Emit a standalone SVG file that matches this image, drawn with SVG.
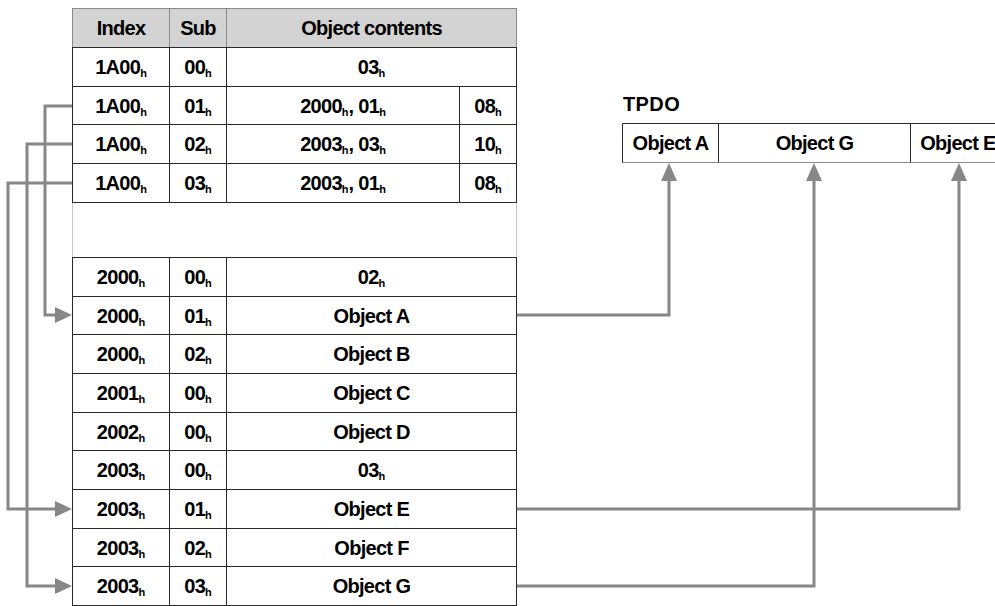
<svg xmlns="http://www.w3.org/2000/svg" width="995" height="606" viewBox="0 0 995 606">
<style>
text{font-family:"Liberation Sans",Arial,sans-serif;font-weight:bold;font-size:20px;letter-spacing:-0.7px;fill:#000;text-anchor:middle}
.s{font-size:11px;letter-spacing:0}
.ln{stroke:#2a2a2a;stroke-width:1;fill:none}
.hl{stroke:#8a8a8a;stroke-width:1;fill:none}
.hf{stroke:#8a8a8a;stroke-width:1;fill:#d3d3d3}
.gap{stroke:#c8c8c8;stroke-width:1;fill:none}
.con{stroke:#878787;stroke-width:3;fill:none}
.ah{fill:#878787}
.tl{text-anchor:start;font-size:20px;letter-spacing:0.4px}
</style>
<rect width="995" height="606" fill="#fff"/>

<g id="header">
<rect x="72.5" y="8.5" width="444" height="39" class="hf"/>
<line x1="169.5" y1="8.5" x2="169.5" y2="47.5" class="hl"/>
<line x1="226.5" y1="8.5" x2="226.5" y2="47.5" class="hl"/>
<text x="121" y="35">Index</text>
<text x="198" y="35">Sub</text>
<text x="371.5" y="35">Object contents</text>
</g>

<g id="row-1a00-00">
<rect x="72.5" y="47.5" width="444" height="39" class="ln"/>
<line x1="169.5" y1="47.5" x2="169.5" y2="86.5" class="ln"/>
<line x1="226.5" y1="47.5" x2="226.5" y2="86.5" class="ln"/>
<text x="121" y="74">1A00<tspan class="s" dy="3">h</tspan></text>
<text x="198" y="74">00<tspan class="s" dy="3">h</tspan></text>
<text x="371.5" y="74">03<tspan class="s" dy="3">h</tspan></text>
</g>

<g id="row-1a00-01">
<rect x="72.5" y="86.5" width="444" height="38" class="ln"/>
<line x1="169.5" y1="86.5" x2="169.5" y2="124.5" class="ln"/>
<line x1="226.5" y1="86.5" x2="226.5" y2="124.5" class="ln"/>
<line x1="459.5" y1="86.5" x2="459.5" y2="124.5" class="ln"/>
<text x="121" y="112.5">1A00<tspan class="s" dy="3">h</tspan></text>
<text x="198" y="112.5">01<tspan class="s" dy="3">h</tspan></text>
<text x="343" y="112.5">2000<tspan class="s" dy="3">h</tspan><tspan dy="-3">, 01</tspan><tspan class="s" dy="3">h</tspan></text>
<text x="488" y="112.5">08<tspan class="s" dy="3">h</tspan></text>
</g>

<g id="row-1a00-02">
<rect x="72.5" y="124.5" width="444" height="39" class="ln"/>
<line x1="169.5" y1="124.5" x2="169.5" y2="163.5" class="ln"/>
<line x1="226.5" y1="124.5" x2="226.5" y2="163.5" class="ln"/>
<line x1="459.5" y1="124.5" x2="459.5" y2="163.5" class="ln"/>
<text x="121" y="151">1A00<tspan class="s" dy="3">h</tspan></text>
<text x="198" y="151">02<tspan class="s" dy="3">h</tspan></text>
<text x="343" y="151">2003<tspan class="s" dy="3">h</tspan><tspan dy="-3">, 03</tspan><tspan class="s" dy="3">h</tspan></text>
<text x="488" y="151">10<tspan class="s" dy="3">h</tspan></text>
</g>

<g id="row-1a00-03">
<rect x="72.5" y="163.5" width="444" height="39" class="ln"/>
<line x1="169.5" y1="163.5" x2="169.5" y2="202.5" class="ln"/>
<line x1="226.5" y1="163.5" x2="226.5" y2="202.5" class="ln"/>
<line x1="459.5" y1="163.5" x2="459.5" y2="202.5" class="ln"/>
<text x="121" y="190">1A00<tspan class="s" dy="3">h</tspan></text>
<text x="198" y="190">03<tspan class="s" dy="3">h</tspan></text>
<text x="343" y="190">2003<tspan class="s" dy="3">h</tspan><tspan dy="-3">, 01</tspan><tspan class="s" dy="3">h</tspan></text>
<text x="488" y="190">08<tspan class="s" dy="3">h</tspan></text>
</g>

<g id="gap">
<line x1="72.5" y1="203" x2="72.5" y2="257" class="gap"/>
<line x1="516.5" y1="203" x2="516.5" y2="257" class="gap"/>
</g>

<g id="row-2000-00">
<rect x="72.5" y="257.5" width="444" height="39" class="ln"/>
<line x1="169.5" y1="257.5" x2="169.5" y2="296.5" class="ln"/>
<line x1="226.5" y1="257.5" x2="226.5" y2="296.5" class="ln"/>
<text x="121" y="284">2000<tspan class="s" dy="3">h</tspan></text>
<text x="198" y="284">00<tspan class="s" dy="3">h</tspan></text>
<text x="371.5" y="284">02<tspan class="s" dy="3">h</tspan></text>
</g>

<g id="row-2000-01">
<rect x="72.5" y="296.5" width="444" height="38" class="ln"/>
<line x1="169.5" y1="296.5" x2="169.5" y2="334.5" class="ln"/>
<line x1="226.5" y1="296.5" x2="226.5" y2="334.5" class="ln"/>
<text x="121" y="322.5">2000<tspan class="s" dy="3">h</tspan></text>
<text x="198" y="322.5">01<tspan class="s" dy="3">h</tspan></text>
<text x="371.5" y="322.5">Object A</text>
</g>

<g id="row-2000-02">
<rect x="72.5" y="334.5" width="444" height="39" class="ln"/>
<line x1="169.5" y1="334.5" x2="169.5" y2="373.5" class="ln"/>
<line x1="226.5" y1="334.5" x2="226.5" y2="373.5" class="ln"/>
<text x="121" y="361">2000<tspan class="s" dy="3">h</tspan></text>
<text x="198" y="361">02<tspan class="s" dy="3">h</tspan></text>
<text x="371.5" y="361">Object B</text>
</g>

<g id="row-2001-00">
<rect x="72.5" y="373.5" width="444" height="39" class="ln"/>
<line x1="169.5" y1="373.5" x2="169.5" y2="412.5" class="ln"/>
<line x1="226.5" y1="373.5" x2="226.5" y2="412.5" class="ln"/>
<text x="121" y="400">2001<tspan class="s" dy="3">h</tspan></text>
<text x="198" y="400">00<tspan class="s" dy="3">h</tspan></text>
<text x="371.5" y="400">Object C</text>
</g>

<g id="row-2002-00">
<rect x="72.5" y="412.5" width="444" height="38" class="ln"/>
<line x1="169.5" y1="412.5" x2="169.5" y2="450.5" class="ln"/>
<line x1="226.5" y1="412.5" x2="226.5" y2="450.5" class="ln"/>
<text x="121" y="438.5">2002<tspan class="s" dy="3">h</tspan></text>
<text x="198" y="438.5">00<tspan class="s" dy="3">h</tspan></text>
<text x="371.5" y="438.5">Object D</text>
</g>

<g id="row-2003-00">
<rect x="72.5" y="450.5" width="444" height="39" class="ln"/>
<line x1="169.5" y1="450.5" x2="169.5" y2="489.5" class="ln"/>
<line x1="226.5" y1="450.5" x2="226.5" y2="489.5" class="ln"/>
<text x="121" y="477">2003<tspan class="s" dy="3">h</tspan></text>
<text x="198" y="477">00<tspan class="s" dy="3">h</tspan></text>
<text x="371.5" y="477">03<tspan class="s" dy="3">h</tspan></text>
</g>

<g id="row-2003-01">
<rect x="72.5" y="489.5" width="444" height="39" class="ln"/>
<line x1="169.5" y1="489.5" x2="169.5" y2="528.5" class="ln"/>
<line x1="226.5" y1="489.5" x2="226.5" y2="528.5" class="ln"/>
<text x="121" y="516">2003<tspan class="s" dy="3">h</tspan></text>
<text x="198" y="516">01<tspan class="s" dy="3">h</tspan></text>
<text x="371.5" y="516">Object E</text>
</g>

<g id="row-2003-02">
<rect x="72.5" y="528.5" width="444" height="38" class="ln"/>
<line x1="169.5" y1="528.5" x2="169.5" y2="566.5" class="ln"/>
<line x1="226.5" y1="528.5" x2="226.5" y2="566.5" class="ln"/>
<text x="121" y="554.5">2003<tspan class="s" dy="3">h</tspan></text>
<text x="198" y="554.5">02<tspan class="s" dy="3">h</tspan></text>
<text x="371.5" y="554.5">Object F</text>
</g>

<g id="row-2003-03">
<rect x="72.5" y="566.5" width="444" height="39" class="ln"/>
<line x1="169.5" y1="566.5" x2="169.5" y2="605.5" class="ln"/>
<line x1="226.5" y1="566.5" x2="226.5" y2="605.5" class="ln"/>
<text x="121" y="593">2003<tspan class="s" dy="3">h</tspan></text>
<text x="198" y="593">03<tspan class="s" dy="3">h</tspan></text>
<text x="371.5" y="593">Object G</text>
</g>

<g id="tpdo">
<text class="tl" x="623" y="111">TPDO</text>
<line x1="622.5" y1="123.5" x2="995" y2="123.5" class="ln"/>
<line x1="622.5" y1="162.5" x2="995" y2="162.5" class="hl"/>
<g id="tpdo-a">
<line x1="622.5" y1="123.5" x2="622.5" y2="162.5" class="ln"/>
<text x="670.5" y="150">Object A</text>
</g>
<g id="tpdo-g">
<line x1="718.5" y1="123.5" x2="718.5" y2="162.5" class="ln"/>
<text x="814.5" y="150">Object G</text>
</g>
<g id="tpdo-e">
<line x1="910.5" y1="123.5" x2="910.5" y2="162.5" class="ln"/>
<text x="958" y="150">Object E</text>
</g>
</g>

<g id="connectors">
<path class="con" d="M72 106 H45 V315 H56"/>
<polygon class="ah" points="72,315 55,307 55,323"/>
<path class="con" d="M72 144 H27 V586 H56"/>
<polygon class="ah" points="72,586 55,578 55,594"/>
<path class="con" d="M72 183 H8 V509 H56"/>
<polygon class="ah" points="72,509 55,501 55,517"/>
<path class="con" d="M517 315 H669 V180"/>
<polygon class="ah" points="669,163 661,181 677,181"/>
<path class="con" d="M517 586 H814 V180"/>
<polygon class="ah" points="814,163 806,181 822,181"/>
<path class="con" d="M517 509 H959 V180"/>
<polygon class="ah" points="959,163 951,181 967,181"/>
</g>
</svg>
